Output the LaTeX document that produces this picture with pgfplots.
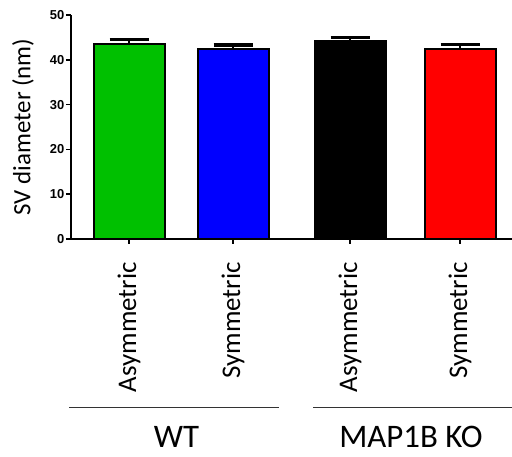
\documentclass[border=0pt]{standalone}
\usepackage{pgfplots}
\pgfplotsset{compat=1.18}
\usepackage{fontspec}
\setmainfont{Carlito}
\newfontfamily\arialf{Liberation Sans}
\newcommand{\yt}[1]{\fontsize{13}{15}\selectfont\arialf\bfseries #1}
\definecolor{cgreen}{RGB}{0,192,0}
\definecolor{cblue}{RGB}{0,0,255}
\definecolor{cred}{RGB}{255,0,0}
\pgfplotsset{
  myerr/.style={error bars/.cd, y dir=plus, y explicit,
    error bar style={line width=2bp, black},
    error mark options={rotate=90, mark size=19.5bp, line width=3.5bp, black}}
}
\begin{document}
\begin{tikzpicture}[x=1bp,y=1bp]
\useasboundingbox (0,0) rectangle (512,457);
\begin{axis}[
  at={(71bp,218bp)}, anchor=south west,
  scale only axis, width=441bp, height=224bp,
  xmin=0, xmax=441, ymin=0, ymax=50,
  axis x line*=bottom, axis y line*=left,
  axis line style={line width=2bp, black},
  ytick={0,10,20,30,40,50},
  yticklabels={\yt{0},\yt{10},\yt{20},\yt{30},\yt{40},\yt{50}},
  xtick={58,162,279,389},
  xticklabels={Asymmetric,Symmetric,Asymmetric,Symmetric},
  tick align=outside, major tick length=5bp,
  tick style={line width=1.5bp, black},
  yticklabel style={inner sep=1.5bp},
  xticklabel style={rotate=90, anchor=east, font=\fontsize{27}{29}\selectfont, inner sep=0pt, xshift=-18bp},
  ylabel={SV diameter (nm)},
  ylabel style={at={(axis description cs:-0.109,0.5)}, anchor=center, rotate=0, font=\fontsize{25}{27}\selectfont},
  ybar, bar width=71bp, bar shift=0pt,
  clip=false,
  every axis plot/.append style={draw=black, line width=2bp},
]
\addplot[fill=cgreen, myerr] coordinates {(58,43.6) +- (0,0.9)};
\addplot[fill=cblue, myerr] coordinates {(162,42.4) +- (0,0.9)};
\addplot[fill=black, myerr] coordinates {(279,44.3) +- (0,0.65)};
\addplot[fill=cred, myerr] coordinates {(389,42.5) +- (0,0.9)};
\end{axis}
\draw[line width=1bp, black!80] (69,49) -- (279,49);
\draw[line width=1bp, black!80] (313,49) -- (512,49);
\node[font=\fontsize{33}{35}\selectfont] at (176.5,20) {WT};
\node[font=\fontsize{33}{35}\selectfont] at (411,20) {MAP1B KO};
\end{tikzpicture}
\end{document}
